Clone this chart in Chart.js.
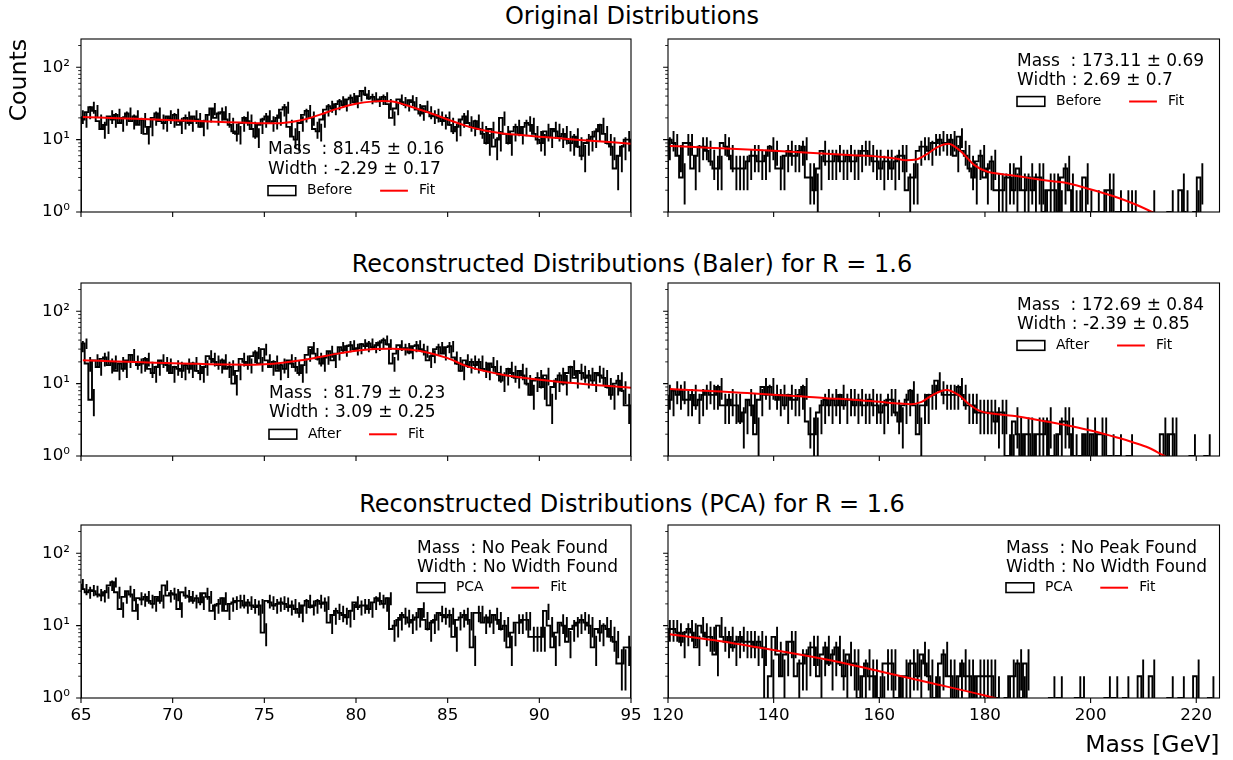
<!DOCTYPE html>
<html>
<head>
<meta charset="utf-8">
<title>Mass distributions</title>
<script src="https://cdn.jsdelivr.net/npm/chart.js@4.4.1/dist/chart.umd.min.js"></script>
<style>
  html, body { margin: 0; padding: 0; background: #fff; }
  #fig { position: relative; width: 1233px; height: 760px; overflow: hidden; font-family: "DejaVu Sans", sans-serif; }
  #fig canvas { position: absolute; left: 0; top: 0; }
  .rowtitle { position: absolute; left: 632px; transform: translateX(-50%); white-space: nowrap;
              font-size: 24px; line-height: 24px; color: #000; }
</style>
</head>
<body>
<div id="fig"></div>
<script>
// ---- binning ----
const wBinStart = 65, wBinWidth = 0.2;      // W window, 150 bins
const topBinStart = 120, topBinWidth = 0.7; // top window, 150 bins

// ---- axis ticks ----
const wTicks = [65, 70, 75, 80, 85, 90, 95];
const topTicks = [120, 140, 160, 180, 200, 220];
const yDecades = [1, 10, 100];
const yTickLabels = ['10\u2070', '10\u00b9', '10\u00b2'];

// ---- row titles / labels ----
const rowTitles = ['Original Distributions',
                   'Reconstructed Distributions (Baler) for R = 1.6',
                   'Reconstructed Distributions (PCA) for R = 1.6'];
const histLabels = ['Before', 'Before', 'After', 'After', 'PCA', 'PCA'];
const massValues = ['81.45 \u00b1 0.16', '173.11 \u00b1 0.69', '81.79 \u00b1 0.23', '172.69 \u00b1 0.84', 'No Peak Found', 'No Peak Found'];
const widthValues = ['-2.29 \u00b1 0.17', '2.69 \u00b1 0.7', '3.09 \u00b1 0.25', '-2.39 \u00b1 0.85', 'No Width Found', 'No Width Found'];

// ---- histogram counts ----
const originalW = [
  21,19,24,28,25,18,14,16,21,19, 22,17,20,23,18,21,16,19,12,15,
  20,23,18,17,21,19,22,16,18,20, 17,21,19,15,18,22,27,20,23,24,
  19,16,13,12,17,20,18,14,11,16, 19,21,17,18,20,26,28,15,11,10,
  17,22,25,20,14,13,19,26,29,27, 31,34,30,36,38,33,40,47,42,37,
  39,34,36,39,31,20,27,36,33,30, 35,33,26,23,29,24,21,22,20,18,
  20,16,13,15,19,21,17,15,18,14, 12,9,14,8,10,20,12,9,13,15,
  12,15,17,16,12,10,9,13,11,14, 13,11,12,10,9,11,8,6,9,10,
  11,13,16,12,9,8,4,6,8,10
];
const originalTop = [
  8,10,9,6,3,9,9,4,6,8, 8,7,5,4,4,9,8,6,4,4,
  4,4,5,6,6,5,5,6,8,7, 4,4,6,7,6,6,7,8,3,3,
  2,4,7,5,5,5,6,5,5,6, 5,5,6,7,7,6,5,5,4,5,
  5,4,5,6,6,2,3,3,7,8, 8,7,9,9,10,9,9,10,6,11,
  7,6,4,3,5,6,3,4,5,2, 2,2,3,3,2,4,2,2,3,2,
  3,3,1,2,2,2,1,3,4,2, 1,1,0,3,1,0,1,0,1,2,
  2,0,1,0,1,1,1,0,0,0, 0,1,0,0,0,0,1,0,0,2,
  1,0,0,1,3,0,0,0,0,0
];
const balerW = [
  33,36,19,6,21,17,22,23,18,20, 15,19,16,21,25,20,18,19,22,16,
  14,17,21,19,18,14,17,16,15,18, 16,19,15,14,17,24,22,20,18,21,
  16,17,10,15,22,20,18,24,27,19, 30,21,17,20,15,18,16,21,19,17,
  14,18,25,32,26,22,19,23,28,21, 26,32,29,33,34,30,31,35,33,36,
  32,34,37,40,35,19,26,34,30,31, 27,33,34,30,28,21,24,30,32,26,
  32,33,23,19,15,21,18,20,18,20, 16,15,19,17,14,11,13,16,14,12,
  15,13,10,7,11,12,9,13,5,9, 11,13,10,14,17,12,15,14,12,13,
  11,14,13,12,9,7,10,11,8,5
];
const balerTop = [
  7,6,8,7,8,6,6,7,5,6, 7,8,7,7,9,5,5,6,5,5,
  3,4,6,5,2,6,9,7,9,7, 6,7,5,7,6,6,7,9,3,2,
  2,4,5,6,5,6,5,7,5,6, 6,5,6,5,5,6,5,5,4,5,
  6,6,4,3,5,6,8,5,2,5, 5,7,7,11,8,7,7,7,7,9,
  7,5,5,5,4,4,4,4,4,3, 4,4,1,1,3,2,1,2,2,1,
  2,2,2,3,1,1,2,3,3,2, 1,0,1,2,1,2,0,2,2,0,
  1,0,1,0,0,1,0,0,0,0, 0,0,0,0,2,1,2,2,0,0,
  0,0,1,0,0,0,1,0,0,0
];
const pcaW = [
  38,32,29,31,30,27,26,29,36,40, 29,17,25,30,27,16,24,23,25,22,
  20,25,22,36,26,28,27,17,29,26, 25,22,24,21,28,25,16,19,20,24,
  16,20,21,22,22,19,21,19,18,19, 8,22,21,19,20,21,20,18,19,17,
  15,19,22,18,19,22,20,21,11,14, 16,15,14,13,16,21,18,19,19,17,
  21,24,22,20,24,9,10,12,14,13, 11,12,13,17,12,9,11,12,15,14,
  13,14,7,12,13,14,12,5,15,15, 11,13,11,14,12,9,10,5,8,11,
  11,12,12,7,7,7,7,16,10,5, 8,11,10,6,9,10,11,12,11,10,
  5,9,8,10,9,7,6,3,3,5
];
const pcaTop = [
  9,9,9,8,6,8,9,8,5,10, 8,7,7,4,10,7,6,7,5,6,
  7,6,6,6,5,6,5,0,2,7, 4,2,4,6,6,2,3,3,4,5,
  5,2,4,5,3,4,5,3,2,4, 3,3,1,2,3,2,2,1,1,3,
  3,3,1,1,2,2,3,3,2,4, 3,2,1,1,3,4,2,2,1,2,
  3,2,2,1,2,2,2,2,2,1, 0,0,1,2,2,3,1,3,0,0,
  0,0,0,0,1,0,1,0,0,0, 0,1,1,0,0,0,0,0,0,1,
  0,1,0,0,1,0,0,0,2,0, 0,2,0,0,0,0,1,0,0,1,
  0,0,0,2,0,0,0,1,0,0
];

// ---- fitted curves (mass, counts) ----
const fitOriginalWMass   = [65.1,66,67,68,69,70,71,72,73,74,75,76,77,78,79,80,81,81.45,82,83,84,85,86,87,88,89,90,91,92,93,94,95];
const fitOriginalWCounts = [20.6,20.2,19.8,19.4,19.0,18.6,18.2,17.8,17.4,17.1,16.8,17.0,18.5,22.0,26.8,31.3,33.8,34.2,33.6,28.5,23.5,19.0,15.5,13.4,12.2,11.6,11.0,10.5,10.0,9.6,9.2,8.8];
const fitOriginalTopMass   = [120.35,125,130,135,140,145,150,155,160,163,165,167,169,171,173.11,175.5,178,180.5,183,186,189,192,195,199.5,204.5,208.3,212.4,215];
const fitOriginalTopCounts = [8.2,7.9,7.6,7.3,7.0,6.7,6.4,6.1,5.8,5.5,5.2,5.3,6.3,7.9,8.8,6.8,4.45,3.6,3.35,3.15,2.9,2.7,2.55,2.1,1.64,1.29,0.94,0.75];
const fitBalerWMass   = [65.1,66,67,68,69,70,71,72,73,74,75,76,77,78,79,80,81,81.79,82,83,84,85,86,87,88,89,90,91,92,93,94,95];
const fitBalerWCounts = [21.1,20.7,20.3,19.9,19.5,19.2,18.9,18.6,18.4,18.3,18.6,19.5,21.0,23.3,26.0,28.4,30.0,30.4,30.3,29.4,26.6,22.5,17.6,15.0,13.3,12.2,11.3,10.6,10.1,9.6,9.2,8.8];
const fitBalerTopMass   = [120.35,125,130,135,140,145,150,155,160,164,166,168,170,172.69,175,177,179,182,186,190,195,200,205,208,211,214,217];
const fitBalerTopCounts = [8.4,8.1,7.8,7.4,7.0,6.7,6.3,6.0,5.6,5.3,5.2,5.6,6.9,8.2,7.0,5.2,4.2,3.8,3.55,3.15,2.7,2.25,1.8,1.55,1.3,1.0,0.8];
const fitPcaTopMass   = [120.35,130,140,150,160,170,180,184];
const fitPcaTopCounts = [7.6,6.1,4.6,3.4,2.35,1.6,1.08,0.9];

// ---- figure geometry ----
const FIG_W = 1233, FIG_H = 760;
const COLS = [{left: 81, right: 631, min: 65, max: 95},
              {left: 668, right: 1219.5, min: 120, max: 224.4}];
const ROWS = [{top: 39, bottom: 212}, {top: 283, bottom: 456}, {top: 525, bottom: 698}];
const Y_MAX = 246;
const TITLE_BASELINES = [24.3, 271.8, 512.5];
// legend/annotation block placement inside each frame
const notePlacement = [
  {dx: 187, base: [115.3, 134.5], legendY: 151.7},
  {dx: 349, base: [26.8, 46.0], legendY: 62.5},
  {dx: 188, base: [114.7, 133.8], legendY: 151.3},
  {dx: 349, base: [26.8, 46.0], legendY: 62.5},
  {dx: 336, base: [27.5, 46.6], legendY: 62.7},
  {dx: 338, base: [27.5, 46.6], legendY: 62.7}
];

const LINE_W = 1.9;
// empty bins cannot sit on a log axis; they are drawn below its visible range
const LOG_CLIP = 1e-2;

Chart.defaults.font.family = "'DejaVu Sans', sans-serif";
Chart.defaults.color = '#000';

function stepOutline(counts, start, width) {
  const pts = [{x: start, y: LOG_CLIP}];
  counts.forEach((n, i) => pts.push({x: start + i * width, y: n > 0 ? n : LOG_CLIP}));
  const end = start + counts.length * width;
  const last = counts[counts.length - 1];
  pts.push({x: end, y: last > 0 ? last : LOG_CLIP});
  pts.push({x: end, y: LOG_CLIP});
  return pts;
}

function errorSegments(counts, start, width) {
  const pts = [];
  counts.forEach((n, i) => {
    if (n <= 0) return;
    const c = start + (i + 0.5) * width;
    const e = Math.sqrt(n);
    pts.push({x: c, y: n - e > 0 ? n - e : LOG_CLIP}, {x: c, y: n + e}, {x: c, y: null});
  });
  return pts;
}

function yTickList() {
  const list = [];
  yDecades.forEach(d => {
    for (let m = 1; m <= 9; m++) {
      if (m * d <= Y_MAX) list.push({value: m * d, major: m === 1});
    }
  });
  return list;
}

// frame box and tick marks (major and minor)
const framePlugin = {
  id: 'frameTicks',
  afterDraw(chart) {
    const {ctx, chartArea: a, scales: {x, y}} = chart;
    ctx.save();
    ctx.strokeStyle = '#000';
    ctx.lineWidth = 1.1;
    ctx.strokeRect(a.left, a.top, a.right - a.left, a.bottom - a.top);
    ctx.beginPath();
    x.ticks.forEach(t => {
      const px = x.getPixelForValue(t.value);
      ctx.moveTo(px, a.bottom); ctx.lineTo(px, a.bottom + 4.9);
    });
    y.ticks.forEach(t => {
      if (!t.major) return;
      const py = y.getPixelForValue(t.value);
      ctx.moveTo(a.left, py); ctx.lineTo(a.left - 4.9, py);
    });
    ctx.stroke();
    ctx.lineWidth = 0.85;
    ctx.beginPath();
    y.ticks.forEach(t => {
      if (t.major) return;
      const py = y.getPixelForValue(t.value);
      ctx.moveTo(a.left, py); ctx.lineTo(a.left - 2.8, py);
    });
    ctx.stroke();
    ctx.restore();
  }
};

// fit result text plus the two-entry legend
const notePlugin = {
  id: 'panelNote',
  afterDraw(chart, args, opts) {
    const {ctx, chartArea: a} = chart;
    const x0 = a.left + opts.dx;
    ctx.save();
    ctx.fillStyle = '#000';
    ctx.textAlign = 'left';
    ctx.textBaseline = 'alphabetic';
    ctx.font = '17px "DejaVu Sans"';
    ctx.fillText('Mass  : ' + opts.mass, x0, a.top + opts.base[0]);
    ctx.fillText('Width : ' + opts.width, x0, a.top + opts.base[1]);

    const cy = a.top + opts.legendY;
    const handle = 27.8, pad = 11.1, colGap = 27.8;
    ctx.font = '13.9px "DejaVu Sans"';
    ctx.textBaseline = 'middle';
    ctx.strokeStyle = '#000';
    ctx.lineWidth = 1.6;
    ctx.strokeRect(x0, cy - 4.9, handle, 9.7);
    const t1 = x0 + handle + pad;
    ctx.fillText(opts.hist, t1, cy);
    const x2 = t1 + ctx.measureText(opts.hist).width + colGap;
    ctx.strokeStyle = '#ff0000';
    ctx.lineWidth = 2;
    ctx.beginPath(); ctx.moveTo(x2, cy); ctx.lineTo(x2 + handle, cy); ctx.stroke();
    ctx.fillText('Fit', x2 + handle + pad, cy);
    ctx.restore();
  }
};

const panels = [
  {counts: originalW,   fitX: fitOriginalWMass,   fitY: fitOriginalWCounts},
  {counts: originalTop, fitX: fitOriginalTopMass, fitY: fitOriginalTopCounts},
  {counts: balerW,      fitX: fitBalerWMass,      fitY: fitBalerWCounts},
  {counts: balerTop,    fitX: fitBalerTopMass,    fitY: fitBalerTopCounts},
  {counts: pcaW,        fitX: null,               fitY: null},
  {counts: pcaTop,      fitX: fitPcaTopMass,      fitY: fitPcaTopCounts}
];

const fig = document.getElementById('fig');

rowTitles.forEach((t, r) => {
  const d = document.createElement('div');
  d.className = 'rowtitle';
  d.textContent = t;
  d.style.top = (TITLE_BASELINES[r] - 20.3) + 'px';
  fig.appendChild(d);
});

panels.forEach((p, k) => {
  const r = Math.floor(k / 2), c = k % 2;
  const col = COLS[c], row = ROWS[r];
  const start = c === 0 ? wBinStart : topBinStart;
  const width = c === 0 ? wBinWidth : topBinWidth;
  const yW = c === 0 ? col.left : 30;
  const xH = r === 2 ? FIG_H - row.bottom : 20;

  const canvas = document.createElement('canvas');
  canvas.width = FIG_W; canvas.height = FIG_H;
  canvas.style.width = FIG_W + 'px'; canvas.style.height = FIG_H + 'px';
  fig.appendChild(canvas);

  const datasets = [
    {label: histLabels[k], data: stepOutline(p.counts, start, width), stepped: 'after',
     borderColor: '#000', borderWidth: LINE_W, pointRadius: 0, fill: false, order: 2},
    {label: histLabels[k] + ' errors', data: errorSegments(p.counts, start, width),
     borderColor: '#000', borderWidth: LINE_W, pointRadius: 0, fill: false, spanGaps: false, order: 1}
  ];
  if (p.fitX) {
    datasets.push({label: 'Fit', data: p.fitX.map((x, i) => ({x, y: p.fitY[i]})),
      borderColor: '#ff0000', borderWidth: 2, pointRadius: 0, fill: false,
      cubicInterpolationMode: 'monotone', order: 0});
  }

  const ticks = c === 0 ? wTicks : topTicks;

  new Chart(canvas, {
    type: 'line',
    data: {datasets},
    options: {
      responsive: false,
      animation: false,
      devicePixelRatio: 1,
      events: [],
      layout: {
        autoPadding: false,
        padding: {left: col.left - yW, right: FIG_W - col.right, top: row.top, bottom: FIG_H - row.bottom - xH}
      },
      plugins: {
        legend: {display: false},
        tooltip: {enabled: false},
        panelNote: {dx: notePlacement[k].dx, base: notePlacement[k].base, legendY: notePlacement[k].legendY,
                    mass: massValues[k], width: widthValues[k], hist: histLabels[k]}
      },
      scales: {
        x: {
          type: 'linear', min: col.min, max: col.max,
          afterFit: s => { s.height = xH; },
          afterBuildTicks: s => { s.ticks = ticks.map(v => ({value: v})); },
          grid: {display: false, drawTicks: true, tickLength: 5},
          border: {display: false},
          ticks: {display: r === 2, autoSkip: false, maxRotation: 0, padding: 3,
                  font: {size: 16.7}, color: '#000', callback: v => String(v)},
          title: (r === 2 && c === 1)
            ? {display: true, text: 'Mass [GeV]', align: 'end', color: '#000', font: {size: 23.6}, padding: {top: 0, bottom: 0}}
            : {display: false}
        },
        y: {
          type: 'logarithmic', min: 1, max: Y_MAX,
          afterFit: s => { s.width = yW; },
          afterBuildTicks: s => { s.ticks = yTickList(); },
          grid: {display: false, drawTicks: true, tickLength: 5},
          border: {display: false},
          ticks: {display: c === 0, autoSkip: false, padding: 6, font: {size: 16.7}, color: '#000',
                  callback: v => { const i = yDecades.indexOf(v); return i >= 0 ? yTickLabels[i] : ''; }},
          title: (r === 0 && c === 0)
            ? {display: true, text: 'Counts', align: 'end', color: '#000', font: {size: 23.6}, padding: {top: 6}}
            : {display: false}
        }
      }
    },
    plugins: [framePlugin, notePlugin]
  });
});
</script>
</body>
</html>
